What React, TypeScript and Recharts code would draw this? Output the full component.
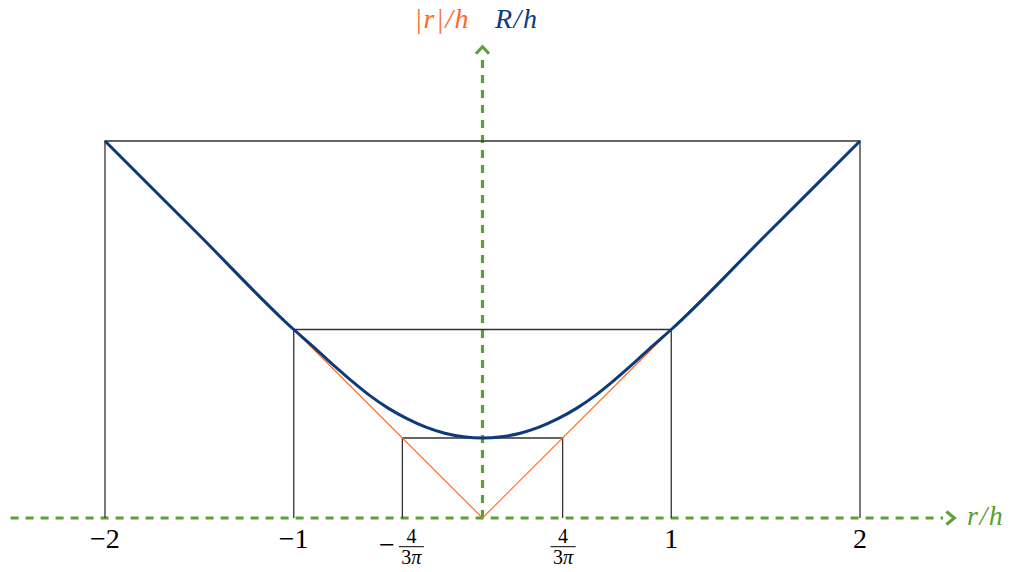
import React from "react";
import { LineChart, Line, XAxis, YAxis, ReferenceLine, ReferenceDot } from "recharts";

// ---- data ----
const FOUR_OVER_3PI = 4 / (3 * Math.PI);
const xTickValues = [-2, -1, -FOUR_OVER_3PI, FOUR_OVER_3PI, 1, 2];
const xTickLabels = ["−2", "−1", "−4/3π", "4/3π", "1", "2"];

// blue curve R/h
const curveX = [-2, -1.5, -1, -0.9, -0.8, -0.7, -0.6, -0.5, -0.4, -0.3, -0.2, -0.1, 0, 0.1, 0.2, 0.3, 0.4, 0.5, 0.6, 0.7, 0.8, 0.9, 1, 1.5, 2];
const curveR = [2, 1.5, 1, 0.912, 0.82, 0.733, 0.652, 0.583, 0.527, 0.482, 0.45, 0.431, 0.424, 0.431, 0.45, 0.482, 0.527, 0.583, 0.652, 0.733, 0.82, 0.912, 1, 1.5, 2];

// orange |r|/h
const absX = [-2, -1, 0, 1, 2];
const absY = [2, 1, 0, 1, 2];

// black boxes
const boxHalfWidths = [2, 1, FOUR_OVER_3PI];
const boxHeights = [2, 1, FOUR_OVER_3PI];

const curveData = curveX.map((x, i) => ({ x, y: curveR[i] }));
const absData = absX.map((x, i) => ({ x, y: absY[i] }));
const boxData = boxHalfWidths.map((w, i) => [
  { x: -w, y: 0 },
  { x: -w, y: boxHeights[i] },
  { x: w, y: boxHeights[i] },
  { x: w, y: 0 },
]);

const GREEN = "#5b9f35";
const ORANGE = "#ff6a1f";
const BLUE = "#0c3a7d";
const SERIF = "'Liberation Serif', 'Times New Roman', serif";

function Tick(props: any) {
  const { x, y, payload, index } = props;
  let i = index;
  if (i === undefined || xTickLabels[i] === undefined) {
    i = xTickValues.findIndex((v) => Math.abs(v - payload.value) < 1e-6);
  }
  const label = xTickLabels[i] ?? String(payload.value);
  if (label.includes("/")) {
    const neg = label.startsWith("−");
    const body = neg ? label.slice(1) : label;
    const [num, den] = body.split("/");
    const fc = neg ? 9 : 0.5;
    return (
      <g transform={`translate(${x},${y})`} fontFamily={SERIF} fill="#000">
        {neg && (
          <text x={-15.5} y={35.5} textAnchor="middle" fontSize={28}>
            −
          </text>
        )}
        <text x={fc} y={24.7} textAnchor="middle" fontSize={20}>
          {num}
        </text>
        <line x1={fc - 12.5} x2={fc + 12.5} y1={28.7} y2={28.7} stroke="#000" strokeWidth={1} />
        <text x={fc} y={46} textAnchor="middle" fontSize={20}>
          {den.replace("π", "")}
          <tspan fontStyle="italic">π</tspan>
        </text>
      </g>
    );
  }
  return (
    <text x={x} y={y + 30.3} textAnchor="middle" fontSize={28} fontFamily={SERIF} fill="#000">
      {label}
    </text>
  );
}

const RightArrow = (p: any) => {
  const { cx, cy } = p;
  return (
    <g>
      <polyline
        points={`${cx - 8},${cy - 6.5} ${cx},${cy} ${cx - 8},${cy + 6.5}`}
        fill="none"
        stroke={GREEN}
        strokeWidth={3}
      />
      <text x={cx + 12.6} y={cy + 7} fontSize={28} fontStyle="italic" fontFamily={SERIF} fill={GREEN} letterSpacing={1.5}>
        r/h
      </text>
    </g>
  );
};

const UpArrow = (p: any) => {
  const { cx, cy } = p;
  return (
    <g>
      <polyline
        points={`${cx - 6.5},${cy + 7} ${cx},${cy} ${cx + 6.5},${cy + 7}`}
        fill="none"
        stroke={GREEN}
        strokeWidth={3}
      />
      <text x={cx - 12.5} y={cy - 19} textAnchor="end" fontSize={28} fontStyle="italic" fontFamily={SERIF} fill={ORANGE} letterSpacing={1.5}>
        |r|/h
      </text>
      <text x={cx + 12.5} y={cy - 19} textAnchor="start" fontSize={28} fontStyle="italic" fontFamily={SERIF} fill={BLUE} letterSpacing={1.5}>
        R/h
      </text>
    </g>
  );
};

export default function App() {
  return (
    <div style={{ position: "absolute", left: 0, top: 0, width: 1013, height: 572, background: "#fff" }}>
      <LineChart width={1013} height={572} margin={{ top: 46.75, right: 58.6, bottom: 0, left: 10.6 }}>
        <XAxis
          dataKey="x"
          type="number"
          domain={[-2.5, 2.5]}
          allowDataOverflow
          ticks={xTickValues}
          tick={<Tick />}
          axisLine={false}
          tickLine={false}
          tickSize={0}
          tickMargin={0}
          height={54}
          interval={0}
        />
        <YAxis type="number" domain={[0, 2.5]} allowDataOverflow hide />
        <ReferenceLine
          segment={[{ x: -2.5, y: 0 }, { x: 2.44, y: 0 }]}
          stroke={GREEN}
          strokeWidth={3.2}
          strokeDasharray="8 7"
        />
        <ReferenceLine
          segment={[{ x: 0, y: 0 }, { x: 0, y: 2.44 }]}
          stroke={GREEN}
          strokeWidth={3.2}
          strokeDasharray="8 7"
        />
        <ReferenceDot x={2.5} y={0} r={0} shape={RightArrow} />
        <ReferenceDot x={0} y={2.5} r={0} shape={UpArrow} />
        {boxData.map((d, i) => (
          <Line
            key={i}
            data={d}
            dataKey="y"
            type="linear"
            stroke="#333"
            strokeWidth={1.3}
            dot={false}
            activeDot={false}
            isAnimationActive={false}
          />
        ))}
        <Line data={absData} dataKey="y" type="linear" stroke={ORANGE} strokeWidth={1.1} dot={false} activeDot={false} isAnimationActive={false} />
        <Line data={curveData} dataKey="y" type="monotone" stroke={BLUE} strokeWidth={3} dot={false} activeDot={false} isAnimationActive={false} />
      </LineChart>
    </div>
  );
}
